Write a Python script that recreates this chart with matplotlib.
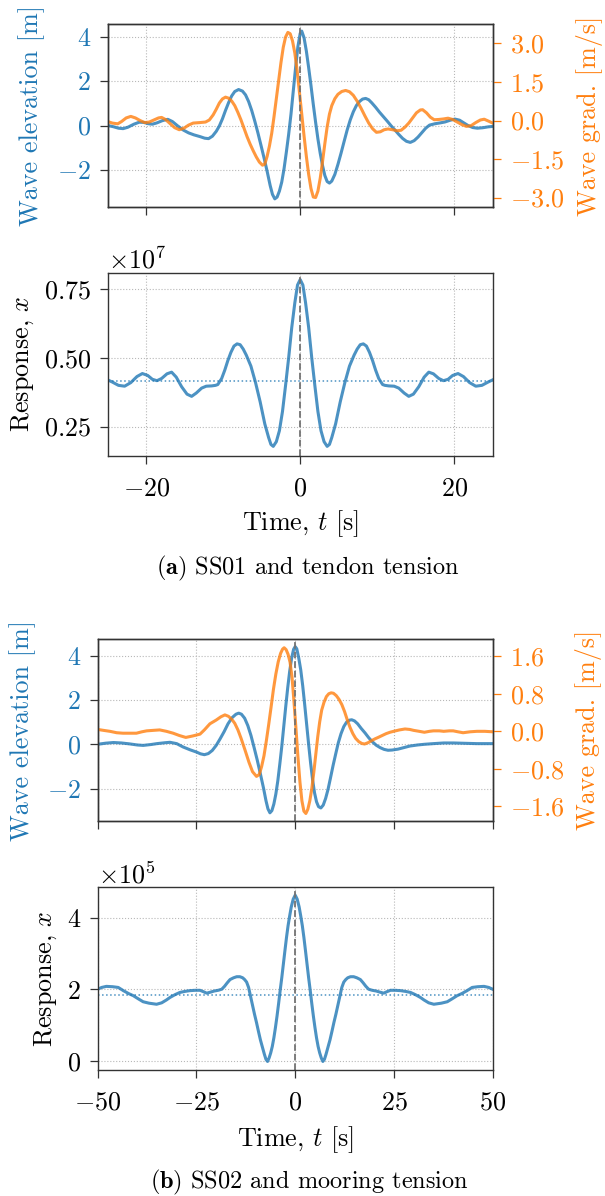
import matplotlib
matplotlib.use("Agg")
import matplotlib.pyplot as plt
from matplotlib.ticker import FormatStrFormatter

plt.rcParams.update({
    "font.family": "serif",
    "font.serif": ["cmr10"],
    "mathtext.fontset": "cm",
    "axes.formatter.use_mathtext": True,
    "axes.unicode_minus": True,
    "font.size": 18.8,
})

BLUE = "#1f77b4"
ORANGE = "#ff7f0e"
SPINE = "0.2"

# ---- (a) SS01 and tendon tension ----
t_wave_a = [-25.0, -24.3, -23.6, -23.0, -22.4, -21.6, -20.9, -20.3, -19.7, -19.2, -18.6, -17.9,
            -17.2, -16.6, -15.9, -15.2, -14.5, -13.8, -13.0, -12.4, -11.9, -11.4, -10.9, -10.5,
            -10.1, -9.7, -9.3, -8.9, -8.5, -8.0, -7.5, -7.1, -6.7, -6.3, -5.9, -5.5, -5.1, -4.7,
            -4.3, -3.9, -3.6, -3.3, -3.0, -2.7, -2.4, -2.1, -1.8, -1.5, -1.2, -0.9, -0.6, -0.3,
            0.0, 0.2, 0.5, 0.8, 1.1, 1.4, 1.7, 2.0, 2.3, 2.6, 2.9, 3.2, 3.5, 3.8, 4.1, 4.5, 4.9,
            5.3, 5.7, 6.1, 6.5, 6.9, 7.3, 7.7, 8.1, 8.5, 8.9, 9.3, 9.8, 10.3, 10.8, 11.3, 11.8,
            12.3, 12.8, 13.3, 13.8, 14.3, 14.8, 15.3, 15.8, 16.3, 16.8, 17.5, 18.2, 18.8, 19.5,
            20.1, 20.7, 21.2, 21.8, 22.4, 23.0, 23.7, 24.4, 25.0]
eta_a = [0.00, -0.05, -0.12, -0.14, -0.08, 0.06, 0.15, 0.14, 0.08, 0.06, 0.12, 0.22,
         0.28, 0.18, -0.02, -0.20, -0.33, -0.42, -0.50, -0.57, -0.59, -0.48, -0.26, -0.02,
         0.30, 0.68, 1.03, 1.33, 1.53, 1.62, 1.55, 1.38, 1.08, 0.68, 0.20, -0.32, -0.88, -1.45,
         -2.05, -2.70, -3.10, -3.30, -3.22, -2.95, -2.55, -1.95, -1.20, -0.40, 0.50, 1.55, 2.60, 3.55,
         4.15, 4.25, 3.95, 3.35, 2.60, 1.80, 0.95, 0.15, -0.60, -1.25, -1.80, -2.25, -2.52, -2.59, -2.50, -2.20, -1.75,
         -1.25, -0.72, -0.20, 0.25, 0.62, 0.90, 1.08, 1.19, 1.22, 1.16, 1.02, 0.82, 0.60, 0.40, 0.20, -0.01,
         -0.20, -0.40, -0.58, -0.71, -0.76, -0.68, -0.52, -0.32, -0.12, 0.02, 0.08, 0.12, 0.16, 0.24,
         0.29, 0.24, 0.13, 0.00, -0.09, -0.12, -0.10, -0.06, -0.04]

t_grad_a = [-25.0, -24.4, -23.7, -23.2, -22.6, -22.0, -21.4, -20.8, -20.2, -19.6, -19.0, -18.4,
            -18.0, -17.5, -16.9, -16.3, -15.7, -15.1, -14.5, -13.9, -13.0, -12.3, -11.8, -11.3,
            -10.9, -10.5, -10.1, -9.7, -9.3, -8.9, -8.5, -8.1, -7.7, -7.3, -6.9, -6.5, -6.1, -5.7,
            -5.3, -4.9, -4.6, -4.3, -4.0, -3.7, -3.4, -3.1, -2.8, -2.5, -2.2, -1.9, -1.6, -1.3,
            -1.0, -0.7, -0.4, -0.1, 0.2, 0.5, 0.8, 1.1, 1.4, 1.7, 2.0, 2.3, 2.6, 2.9, 3.2, 3.5,
            3.8, 4.1, 4.5, 4.9, 5.4, 5.9, 6.4, 6.9, 7.4, 7.9, 8.4, 8.9, 9.4, 9.9, 10.4, 10.9,
            11.4, 12.0, 12.6, 13.1, 13.6, 14.1, 14.6, 15.1, 15.6, 15.9, 16.4, 16.9, 17.4, 18.0,
            18.6, 19.2, 19.8, 20.4, 21.0, 21.6, 22.2, 22.8, 23.4, 23.9, 24.5, 25.0]
grad_a = [-0.04, -0.10, -0.13, -0.04, 0.10, 0.16, 0.10, 0.00, -0.08, -0.06, 0.02, 0.10,
          0.12, 0.04, -0.12, -0.28, -0.36, -0.30, -0.18, -0.10, -0.08, -0.06, 0.02, 0.22,
          0.44, 0.68, 0.84, 0.91, 0.87, 0.76, 0.58, 0.32, 0.03, -0.30, -0.63, -0.92, -1.18, -1.42,
          -1.62, -1.74, -1.70, -1.40, -1.00, -0.50, 0.15, 0.85, 1.55, 2.25, 2.85, 3.25, 3.43, 3.38,
          3.10, 2.63, 1.95, 1.10, 0.25, -0.60, -1.40, -2.10, -2.65, -2.98, -3.00, -2.75, -2.25, -1.60, -0.90, -0.25,
          0.25, 0.58, 0.85, 1.02, 1.13, 1.17, 1.12, 0.98, 0.75, 0.48, 0.18, -0.10, -0.32, -0.46, -0.44, -0.36,
          -0.33, -0.36, -0.40, -0.38, -0.26, -0.10, 0.10, 0.30, 0.41, 0.42, 0.30, 0.13, 0.03, 0.04,
          0.06, 0.09, 0.04, -0.06, -0.16, -0.23, -0.20, -0.08, 0.02, 0.05, -0.03, -0.10]

t_resp_a = [-25.0, -24.4, -23.6, -22.8, -22.0, -21.2, -20.5, -19.8, -19.2, -18.6, -18.0, -17.3,
            -16.7, -16.1, -15.4, -14.7, -14.1, -13.5, -12.8, -12.2, -11.5, -11.0, -10.7, -10.2,
            -9.8, -9.4, -9.0, -8.6, -8.2, -7.8, -7.4, -7.0, -6.4, -5.8, -5.2, -4.6, -4.1, -3.8,
            -3.5, -3.1, -2.7, -2.3, -1.9, -1.5, -1.1, -0.7, -0.35, 0.0,
            0.35, 0.7, 1.1, 1.5, 1.9, 2.3, 2.7, 3.1, 3.5, 3.8, 4.1, 4.6, 5.2, 5.8, 6.4, 7.0,
            7.4, 7.8, 8.2, 8.6, 9.0, 9.4, 9.8, 10.2, 10.7, 11.0, 11.5, 12.2, 12.8, 13.5, 14.1,
            14.7, 15.4, 16.1, 16.7, 17.3, 18.0, 18.6, 19.2, 19.8, 20.5, 21.2, 22.0, 22.8, 23.6,
            24.4, 25.0]
resp_a = [0.420, 0.412, 0.400, 0.397, 0.410, 0.432, 0.443, 0.436, 0.422, 0.417, 0.425, 0.442,
          0.448, 0.430, 0.395, 0.368, 0.360, 0.372, 0.390, 0.397, 0.398, 0.400, 0.403, 0.425,
          0.455, 0.490, 0.520, 0.543, 0.551, 0.548, 0.532, 0.510, 0.470, 0.410, 0.340, 0.260, 0.210, 0.185,
          0.178, 0.195, 0.235, 0.305, 0.400, 0.500, 0.610, 0.700, 0.765, 0.785,
          0.765, 0.700, 0.610, 0.500, 0.400, 0.305, 0.235, 0.195, 0.178, 0.185, 0.210, 0.260, 0.340, 0.410, 0.470, 0.510,
          0.532, 0.548, 0.551, 0.543, 0.520, 0.490, 0.455, 0.425, 0.403, 0.400, 0.398, 0.397, 0.390, 0.372, 0.360,
          0.368, 0.395, 0.430, 0.448, 0.442, 0.425, 0.417, 0.422, 0.436, 0.443, 0.432, 0.410, 0.397, 0.400,
          0.412, 0.420]
resp_a_mean = 0.415
resp_a_scale = 1e7

# ---- (b) SS02 and mooring tension ----
t_wave_b = [-50.0, -48.0, -46.0, -44.0, -42.0, -40.0, -38.5, -36.5, -35.0, -33.0, -31.7, -30.0,
            -28.4, -26.6, -25.0, -24.0, -23.0, -22.0, -21.0, -20.0, -19.0, -18.0, -17.0, -16.0,
            -15.0, -14.3, -13.6, -12.8, -12.0, -11.2, -10.4, -9.6, -8.8, -8.0, -7.4, -6.9, -6.4,
            -5.9, -5.4, -4.9, -4.4, -3.9, -3.4, -2.9, -2.4, -1.9, -1.4, -0.9, -0.4, 0.0, 0.4, 0.9,
            1.4, 1.9, 2.4, 2.9, 3.4, 3.9, 4.4, 4.9, 5.4, 5.9, 6.5, 7.1, 7.7, 8.3, 8.9, 9.6, 10.3,
            10.9, 11.6, 12.3, 13.0, 13.7, 14.3, 15.0, 15.8, 16.7, 17.7, 18.6, 19.5, 20.5, 21.5,
            22.5, 23.5, 24.5, 26.0, 27.5, 29.0, 31.0, 32.7, 35.0, 37.6, 40.0, 42.0, 44.0, 46.0,
            48.0, 50.0]
eta_b = [0.00, 0.05, 0.08, 0.06, 0.02, -0.03, -0.05, -0.01, 0.03, 0.07, 0.09, 0.03,
         -0.12, -0.25, -0.35, -0.43, -0.47, -0.42, -0.28, -0.05, 0.25, 0.57, 0.93, 1.20,
         1.36, 1.41, 1.36, 1.18, 0.85, 0.40, -0.15, -0.72, -1.35, -2.00, -2.55, -2.92, -3.10,
         -3.00, -2.70, -2.25, -1.65, -0.90, -0.10, 0.80, 1.70, 2.55, 3.30, 3.90, 4.30, 4.42, 4.32, 3.90,
         3.37, 2.65, 1.80, 0.90, 0.00, -0.85, -1.60, -2.20, -2.60, -2.82, -2.88, -2.75, -2.45, -2.05, -1.55, -0.95, -0.40,
         0.06, 0.48, 0.80, 1.00, 1.09, 1.11, 1.06, 0.93, 0.72, 0.51, 0.30, 0.12, -0.04, -0.15,
         -0.23, -0.27, -0.26, -0.22, -0.15, -0.08, -0.03, 0.00, 0.03, 0.06, 0.06, 0.05, 0.04, 0.03,
         0.03, 0.03]

t_grad_b = [-50.0, -48.5, -46.9, -45.2, -43.6, -42.0, -40.2, -38.8, -37.6, -36.0, -34.3, -32.6,
            -30.9, -29.3, -27.7, -26.0, -24.1, -23.0, -21.6, -20.0, -18.8, -17.8, -16.9, -16.0,
            -15.3, -14.5, -13.7, -12.7, -11.7, -10.8, -9.8, -9.1, -8.5, -7.9, -7.3, -6.7, -6.1,
            -5.5, -4.9, -4.3, -3.7, -3.2, -2.8, -2.3, -1.8, -1.3, -0.8, -0.3, 0.2, 0.7, 1.2, 1.7,
            2.2, 2.7, 3.2, 3.7, 4.2, 4.7, 5.2, 5.7, 6.2, 6.7, 7.3, 7.9, 8.5, 9.1, 9.7, 10.4, 11.1,
            11.8, 12.5, 13.2, 13.9, 14.6, 15.3, 16.1, 16.9, 17.6, 18.5, 19.3, 20.2, 21.0, 22.0,
            23.0, 24.0, 24.9, 26.4, 27.8, 29.0, 30.0, 31.4, 32.7, 34.0, 35.0, 36.5, 37.6, 39.0,
            40.0, 41.2, 42.5, 44.3, 46.0, 48.0, 50.0]
grad_b = [0.04, 0.02, 0.00, -0.03, -0.04, -0.04, -0.04, -0.01, 0.01, 0.02, 0.03, 0.00,
          -0.04, -0.09, -0.13, -0.10, -0.06, 0.03, 0.16, 0.24, 0.31, 0.35, 0.32, 0.25,
          0.17, 0.03, -0.15, -0.40, -0.66, -0.86, -0.96, -0.92, -0.75, -0.52, -0.20, 0.15, 0.52,
          0.90, 1.22, 1.48, 1.66, 1.75, 1.78, 1.74, 1.64, 1.47, 1.15, 0.62, 0.05, -0.55, -1.08, -1.48,
          -1.70, -1.75, -1.66, -1.48, -1.22, -0.88, -0.50, -0.12, 0.20, 0.45, 0.62, 0.74, 0.80, 0.82, 0.81, 0.76, 0.68,
          0.57, 0.42, 0.24, 0.08, -0.05, -0.15, -0.22, -0.26, -0.27, -0.24, -0.20, -0.16, -0.13, -0.09,
          -0.05, -0.02, 0.00, 0.03, 0.05, 0.04, 0.02, 0.00, -0.02, 0.00, 0.01, 0.01, 0.00, 0.01,
          0.01, -0.01, -0.03, -0.01, 0.00, 0.00, -0.01]

t_resp_b = [-50.0, -49.0, -47.8, -46.2, -44.8, -43.5, -42.2, -41.0, -39.7, -38.5, -37.0, -35.1,
            -33.8, -32.6, -31.7, -30.4, -29.2, -27.9, -26.7, -25.3, -24.1, -23.2, -22.4, -21.4,
            -20.5, -19.5, -18.6, -17.9, -17.2, -16.5, -15.6, -14.8, -14.0, -13.3, -12.8, -12.3,
            -11.8, -11.3, -10.8, -10.3, -9.8, -9.3, -8.8, -8.3, -7.8, -7.4, -7.0, -6.6, -6.2,
            -5.8, -5.4, -5.0, -4.6, -4.2, -3.8, -3.4, -3.0, -2.6, -2.2, -1.8, -1.4, -1.0, -0.5,
            0.0,
            0.5, 1.0, 1.4, 1.8, 2.2, 2.6, 3.0, 3.4, 3.8, 4.2, 4.6, 5.0, 5.4, 5.8, 6.2, 6.6, 7.0,
            7.4, 7.8, 8.3, 8.8, 9.3, 9.8, 10.3, 10.8, 11.3, 11.8, 12.3, 12.8, 13.3, 14.0, 14.8,
            15.6, 16.5, 17.2, 17.9, 18.6, 19.5, 20.5, 21.4, 22.4, 23.2, 24.1, 25.3, 26.7, 27.9,
            29.2, 30.4, 31.7, 32.6, 33.8, 35.1, 37.0, 38.5, 39.7, 41.0, 42.2, 43.5, 44.8, 46.2,
            47.8, 49.0, 50.0]
resp_b = [2.00, 2.05, 2.08, 2.07, 2.05, 1.96, 1.88, 1.82, 1.73, 1.65, 1.61, 1.58,
          1.62, 1.70, 1.77, 1.85, 1.91, 1.94, 1.96, 1.97, 1.97, 1.93, 1.89, 1.92,
          1.95, 1.97, 2.00, 2.08, 2.18, 2.27, 2.32, 2.35, 2.35, 2.32, 2.27, 2.20,
          2.05, 1.80, 1.55, 1.30, 1.07, 0.82, 0.58, 0.38, 0.18, 0.04, -0.02, 0.08, 0.22,
          0.40, 0.64, 0.93, 1.25, 1.60, 1.97, 2.32, 2.70, 3.08, 3.45, 3.78, 4.05, 4.30, 4.52,
          4.63,
          4.52, 4.30, 4.05, 3.78, 3.45, 3.08, 2.70, 2.32, 1.97, 1.60, 1.25, 0.93, 0.64, 0.40, 0.22, 0.08, -0.02,
          0.04, 0.18, 0.38, 0.58, 0.82, 1.07, 1.30, 1.55, 1.80, 2.05, 2.20, 2.27, 2.32, 2.35, 2.35,
          2.32, 2.27, 2.18, 2.08, 2.00, 1.97, 1.95, 1.92, 1.89, 1.93, 1.97, 1.97, 1.96, 1.94,
          1.91, 1.85, 1.77, 1.70, 1.62, 1.58, 1.61, 1.65, 1.73, 1.82, 1.88, 1.96, 2.05, 2.07,
          2.08, 2.05, 2.00]
resp_b_mean = 1.84
resp_b_scale = 1e5

W, H = 605, 1196


def box(l, t, r, b):
    return [l / W, 1 - b / H, (r - l) / W, (b - t) / H]


def style_axes(ax):
    for sp in ax.spines.values():
        sp.set_color(SPINE)
        sp.set_linewidth(1.0)
    ax.tick_params(axis="y", length=5.5, width=0.9, color=SPINE, direction="out", pad=6.5)
    ax.tick_params(axis="x", length=5.5, width=0.9, color=SPINE, direction="out", pad=10)
    ax.grid(True, ls=":", color="0.72", lw=0.8)
    ax.set_axisbelow(True)


def wave_panel(fig, rect, t_w, eta, t_g, grad, xlim, xticks, ylim, yticks, ylim2, yticks2,
               lab_left, lab_right):
    ax = fig.add_axes(rect)
    style_axes(ax)
    ax.plot(t_w, eta, color=BLUE, alpha=0.8, lw=2.2)
    ax.set_xlim(*xlim)
    ax.set_xticks(xticks)
    ax.tick_params(axis="x", labelbottom=False)
    ax.set_ylim(*ylim)
    ax.set_yticks(yticks)
    ax.tick_params(axis="y", labelcolor=BLUE)
    ax.set_ylabel("Wave elevation [m]", color=BLUE)
    ax.yaxis.set_label_coords(lab_left, 0.5)

    ax2 = ax.twinx()
    ax2.plot(t_g, grad, color=ORANGE, alpha=0.8, lw=2.2)
    ax2.axvline(0, color="0.45", ls="--", lw=1.3)
    ax2.set_ylim(*ylim2)
    ax2.set_yticks(yticks2)
    ax2.yaxis.set_major_formatter(FormatStrFormatter(r"$%.1f$"))
    for sp in ax2.spines.values():
        sp.set_color(SPINE)
        sp.set_linewidth(1.0)
    ax2.tick_params(axis="y", length=5.5, width=0.9, colors=ORANGE, pad=7)
    ax2.set_ylabel("Wave grad. [m/s]", color=ORANGE)
    ax2.yaxis.set_label_coords(lab_right, 0.5)
    return ax, ax2


def resp_panel(fig, rect, t, resp, scale, mean, xlim, xticks, ylim, yticks, power,
               lab_left, lab_bottom):
    ax = fig.add_axes(rect)
    style_axes(ax)
    ax.plot(t, [v * scale for v in resp], color=BLUE, alpha=0.8, lw=2.2)
    ax.axhline(mean * scale, color=BLUE, alpha=0.8, ls=":", lw=1.1)
    ax.axvline(0, color="0.45", ls="--", lw=1.3)
    ax.set_xlim(*xlim)
    ax.set_xticks(xticks)
    ax.set_ylim(ylim[0] * scale, ylim[1] * scale)
    ax.set_yticks([v * scale for v in yticks])
    ax.ticklabel_format(axis="y", style="sci", scilimits=(power, power), useMathText=True)
    ax.set_ylabel(r"Response, $x$")
    ax.yaxis.set_label_coords(lab_left, 0.5)
    ax.set_xlabel(r"Time, $t$ [s]")
    ax.xaxis.set_label_coords(0.5, lab_bottom)
    return ax


fig = plt.figure(figsize=(W / 100, H / 100), dpi=100)

wave_panel(fig, box(107.7, 24.2, 492.7, 207.3), t_wave_a, eta_a, t_grad_a, grad_a,
           (-25, 25), [-20, 0, 20], (-3.68, 4.56), [-2, 0, 2, 4],
           (-3.38, 3.75), [-3.0, -1.5, 0.0, 1.5, 3.0], -0.162, 1.217)
resp_panel(fig, box(107.7, 272.7, 492.7, 455.7), t_resp_a, resp_a, resp_a_scale, resp_a_mean,
           (-25, 25), [-20, 0, 20], (0.144, 0.81), [0.25, 0.50, 0.75], 7, -0.186, -0.286)
fig.text(308 / W, 1 - 568 / H, r"$\mathbf{(a)}$ SS01 and tendon tension",
         ha="center", va="center", fontsize=17.5)

wave_panel(fig, box(97.7, 639.3, 492.7, 821.0), t_wave_b, eta_b, t_grad_b, grad_b,
           (-50, 50), [-50, -25, 0, 25, 50], (-3.47, 4.75), [-2, 0, 2, 4],
           (-1.91, 1.96), [-1.6, -0.8, 0.0, 0.8, 1.6], -0.155, 1.209)
resp_panel(fig, box(97.7, 887.3, 492.7, 1069.7), t_resp_b, resp_b, resp_b_scale, resp_b_mean,
           (-50, 50), [-50, -25, 0, 25, 50], (-0.25, 4.85), [0, 2, 4], 5, -0.099, -0.298)
fig.text(309 / W, 1 - 1182.7 / H, r"$\mathbf{(b)}$ SS02 and mooring tension",
         ha="center", va="center", fontsize=17.5)

fig.savefig("out.png", dpi=100, facecolor="white")
